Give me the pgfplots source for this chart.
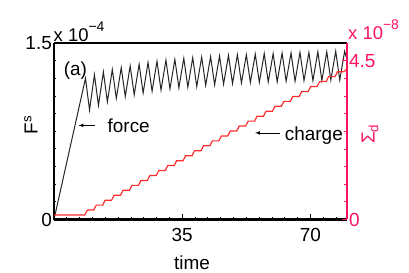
\documentclass[border=0pt]{standalone}
\usepackage{fontspec}
\setmainfont{Liberation Sans}
\usepackage{pgfplots}
\pgfplotsset{compat=1.18}
\definecolor{axpink}{RGB}{250,20,95}
\definecolor{chred}{RGB}{255,45,45}
\begin{document}
\begin{tikzpicture}[font=\fontsize{19}{22}\selectfont]
\path (-54bp,-53.5bp) rectangle (355bp,219.5bp);
\begin{axis}[
  at={(0,0)}, anchor=south west, scale only axis,
  width=293bp, height=176.5bp,
  xmin=0, xmax=80, ymin=0, ymax=1.5,
  separate axis lines,
  x axis line style={line width=2bp, black, -},
  y axis line style={draw=none},
  xtick={35,70}, minor xtick={3.5,7,10.5,14,17.5,21,24.5,28,31.5,38.5,42,45.5,49,52.5,56,59.5,63,66.5,73.5,77},
  ytick={0,1.5}, yticklabels={0,1.5},
  minor ytick={0.15,0.3,0.45,0.6,0.75,0.9,1.05,1.2,1.35},
  xtick pos=left, ytick pos=left,
  tick align=inside,
  major tick length=5bp, minor tick length=2.5bp,
  tick style={black, line width=0.8bp},
  /pgf/number format/assume math mode=true,
  xticklabel style={inner sep=0pt, anchor=north, yshift=-8.5bp},
  yticklabel style={inner sep=0pt, anchor=east, xshift=-2bp},
  clip=false,
]
\addplot[black!85, line width=1bp] coordinates {
(0,0) (8.60,1.20) (9.70,0.93) (11.04,1.23) (12.14,0.97) (13.48,1.255) (14.58,1.00)
(15.92,1.275) (17.02,1.03) (18.36,1.29) (19.46,1.045) (20.80,1.305) (21.90,1.06)
(23.24,1.32) (24.34,1.075) (25.68,1.335) (26.78,1.09) (28.12,1.345) (29.22,1.10)
(30.56,1.355) (31.66,1.11) (33.00,1.36) (34.10,1.12) (35.44,1.37) (36.54,1.125)
(37.88,1.375) (38.98,1.13) (40.32,1.38) (41.42,1.14) (42.76,1.385) (43.86,1.145)
(45.20,1.39) (46.30,1.15) (47.64,1.395) (48.74,1.155) (50.08,1.40) (51.18,1.16)
(52.52,1.40) (53.62,1.165) (54.96,1.405) (56.06,1.165) (57.40,1.41) (58.50,1.17)
(59.84,1.41) (60.94,1.17) (62.28,1.415) (63.38,1.175) (64.72,1.415) (65.82,1.175)
(67.16,1.42) (68.26,1.18) (69.60,1.42) (70.70,1.18) (72.04,1.425) (73.14,1.18)
(74.48,1.425) (75.58,1.185) (76.92,1.43) (78.02,1.185) (79.36,1.43) (80,1.36)
};
\draw[line width=2bp] (rel axis cs:0,0) -- (rel axis cs:0,1);
\draw[-latex, line width=0.7bp] (axis cs:11.3,0.80) -- (axis cs:6.7,0.80);
\node[anchor=west, inner sep=0pt] at (axis cs:14.6,0.80) {force};
\draw[-latex, line width=0.7bp] (axis cs:61.7,0.736) -- (axis cs:54.9,0.736);
\node[anchor=west, inner sep=0pt] at (axis cs:63.0,0.715) {charge};
\node[anchor=west, inner sep=0pt] at (axis cs:2.64,1.268) {(a)};
\end{axis}
\begin{axis}[
  at={(0,0)}, anchor=south west, scale only axis,
  width=293bp, height=176.5bp,
  xmin=0, xmax=80, ymin=0, ymax=5,
  axis x line=none, axis y line*=right,
  y axis line style={axpink, line width=1.2bp, -},
  ytick={0,4.5}, yticklabels={0,4.5},
  minor ytick={0.5,1,1.5,2,2.5,3,3.5,4},
  ytick pos=right, tick align=inside,
  major tick length=5bp, minor tick length=2.5bp,
  tick style={axpink, line width=0.8bp},
  /pgf/number format/assume math mode=true,
  yticklabel style={inner sep=0pt, anchor=west, xshift=2bp, text=axpink},
  clip=false,
]
\addplot[chred, line width=1.2bp] coordinates {
(0,0.127) (8.40,0.127) (9.10,0.267) (10.84,0.267) (11.54,0.407) (13.28,0.407) (13.98,0.547)
(15.72,0.547) (16.42,0.687) (18.16,0.687) (18.86,0.827) (20.60,0.827) (21.30,0.967)
(23.04,0.967) (23.74,1.107) (25.48,1.107) (26.18,1.247) (27.92,1.247) (28.62,1.387)
(30.36,1.387) (31.06,1.527) (32.80,1.527) (33.50,1.667) (35.24,1.667) (35.94,1.807)
(37.68,1.807) (38.38,1.947) (40.12,1.947) (40.82,2.087) (42.56,2.087) (43.26,2.227)
(45.00,2.227) (45.70,2.367) (47.44,2.367) (48.14,2.507) (49.88,2.507) (50.58,2.647)
(52.32,2.647) (53.02,2.787) (54.76,2.787) (55.46,2.927) (57.20,2.927) (57.90,3.067)
(59.64,3.067) (60.34,3.207) (62.08,3.207) (62.78,3.347) (64.52,3.347) (65.22,3.487)
(66.96,3.487) (67.66,3.627) (69.40,3.627) (70.10,3.767) (71.84,3.767) (72.54,3.907)
(74.28,3.907) (74.98,4.047) (76.72,4.047) (77.42,4.187) (79.16,4.187) (80,4.27)
};
\end{axis}
\node[rotate=90] at (-23bp,94.5bp) {F\textsuperscript{s}};
\node at (138bp,-43bp) {time};
\node[rotate=90, text=axpink] at (316bp,85.5bp) {Σ\textsubscript{d}};
\node[anchor=base west, inner sep=0pt, font=\fontsize{18.5}{20}\selectfont] at (-0.5bp,177.5bp) {x 10\raisebox{10bp}{\fontsize{14}{16}\selectfont −4}};
\node[anchor=base west, inner sep=0pt, font=\fontsize{18.5}{20}\selectfont, text=axpink] at (294bp,179.5bp) {x 10\raisebox{10bp}{\fontsize{14}{16}\selectfont −8}};
\end{tikzpicture}
\end{document}
